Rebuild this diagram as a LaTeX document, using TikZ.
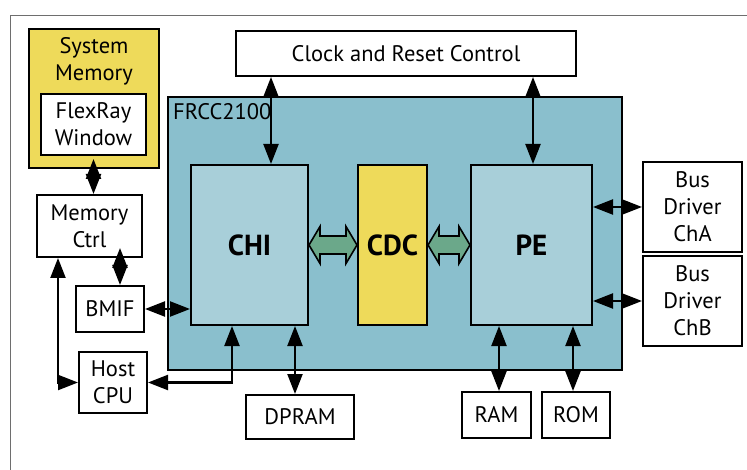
\documentclass[tikz,border=0pt]{standalone}
\usepackage{fontspec}
\setmainfont{PT Sans}
\usetikzlibrary{arrows.meta,positioning,calc}
\definecolor{frccteal}{RGB}{138,191,205}
\definecolor{blocklight}{RGB}{168,207,217}
\definecolor{sysyellow}{RGB}{238,218,90}
\definecolor{cdcgreen}{RGB}{107,168,138}
\definecolor{framegray}{RGB}{110,110,110}
% green two-way link between two blocks
\newcommand{\greenlink}[2]{%
  \draw[greenarrow] (#1.east) -- ($(#1.east)+(11,-18.5)$) -- ($(#1.east)+(11,-9)$)
    -- ($(#2.west)+(-11,-9)$) -- ($(#2.west)+(-11,-18.5)$) -- (#2.west)
    -- ($(#2.west)+(-11,18.5)$) -- ($(#2.west)+(-11,9)$)
    -- ($(#1.east)+(11,9)$) -- ($(#1.east)+(11,18.5)$) -- cycle;}

\begin{document}
\begin{tikzpicture}[x=1pt, y=-1pt, font=\fontsize{22.5}{27}\selectfont,
    blk/.style={draw, line width=2pt, rectangle, inner sep=0pt, align=center, fill=white},
    corebox/.style={blk, fill=blocklight, font=\fontsize{29}{32}\selectfont\bfseries},
    dbl/.style={line width=2.2pt, {Triangle[length=20pt,width=15pt]}-{Triangle[length=20pt,width=15pt]}},
    greenarrow/.style={draw, line width=1.6pt, fill=cdcgreen, line join=miter}]
    \useasboundingbox (0,0) rectangle (747,470);
    % outer frame
    \draw[framegray, line width=1.2pt] (10.5,470) -- (10.5,15.5) -- (747,15.5);
    % host side
    \node[blk, fill=sysyellow, minimum width=130pt, minimum height=139pt] (sysmem) at (94,98.5) {};
    \node[align=center] (sysmemlabel) at (94,61) {System\\Memory};
    \node[blk, minimum width=105pt, minimum height=61pt] (flexwin) at (93.5,124.5) {FlexRay\\Window};
    \node[blk, minimum width=105pt, minimum height=62pt] (memctrl) at (89.5,226) {Memory\\Ctrl};
    \node[blk, minimum width=68pt, minimum height=46pt] (bmif) at (110,309) {BMIF};
    \node[blk, minimum width=68pt, minimum height=61pt] (hostcpu) at (113,382.5) {Host\\CPU};
    % controller
    \node[blk, fill=frccteal, minimum width=454pt, minimum height=273pt] (frcc) at (395,233.5) {};
    \node[anchor=north west, inner sep=0pt] (frcclabel) at (173,103) {FRCC2100};
    \node[corebox, minimum width=117pt, minimum height=160pt] (chi) at (249.5,245) {CHI};
    \node[corebox, fill=sysyellow, minimum width=69pt, minimum height=160pt] (cdc) at (392.5,245) {CDC};
    \node[corebox, minimum width=121pt, minimum height=160pt] (pe) at (531.5,245) {PE};
    \node[blk, minimum width=340pt, minimum height=45pt] (clock) at (406,53.5) {Clock and Reset Control};
    % bus drivers and memories
    \node[blk, minimum width=99pt, minimum height=90pt] (busa) at (692.5,207) {Bus\\Driver\\ChA};
    \node[blk, minimum width=99pt, minimum height=90pt] (busb) at (692.5,301) {Bus\\Driver\\ChB};
    \node[blk, minimum width=108pt, minimum height=44pt] (dpram) at (300,417) {DPRAM};
    \node[blk, minimum width=69pt, minimum height=46pt] (ram) at (496.5,415) {RAM};
    \node[blk, minimum width=68pt, minimum height=46pt] (rom) at (576,415) {ROM};
    % links
    \greenlink{chi}{cdc}
    \greenlink{cdc}{pe}
    \draw[dbl] (clock.south -| 271,0) -- (chi.north -| 271,0);
    \draw[dbl] (clock.south -| 533,0) -- (pe.north -| 533,0);
    \draw[dbl] ($(flexwin.south)+(0,3)$) -- (memctrl.north -| flexwin.south);
    \draw[dbl] ($(memctrl.south -| 120,0)+(0,-10)$) -- (bmif.north -| 120,0);
    \draw[dbl] (bmif.east) -- (chi.west |- bmif.east);
    \draw[dbl] (memctrl.south -| 58,0) |- (hostcpu.west);
    \draw[dbl] (hostcpu.east) -| (chi.south -| 232,0);
    \draw[dbl] (chi.south -| 295,0) -- (dpram.north -| 295,0);
    \draw[dbl] (pe.south -| 499,0) -- (ram.north -| 499,0);
    \draw[dbl] (pe.south -| 573,0) -- (rom.north -| 573,0);
    \draw[dbl] (pe.east |- busa.west) -- (busa.west);
    \draw[dbl] (pe.east |- busb.west) -- (busb.west);
\end{tikzpicture}
\end{document}
